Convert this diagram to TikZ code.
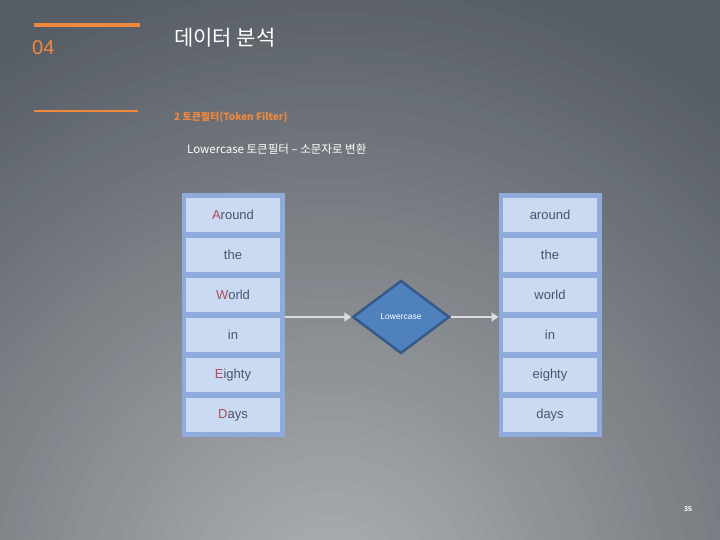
\documentclass[tikz,border=0pt]{standalone}
\usepackage{fontspec}
\setmainfont{Liberation Sans}
\newfontfamily\kr{Noto Sans CJK KR}
\usetikzlibrary{shapes.geometric,arrows.meta}
\definecolor{bgin}{HTML}{B0B3B5}
\definecolor{bgout}{HTML}{575D65}
\definecolor{accent}{HTML}{F0883E}
\definecolor{cellfill}{HTML}{C9DAF2}
\definecolor{cellborder}{HTML}{8EABDB}
\definecolor{celltext}{HTML}{4A5568}
\definecolor{capred}{HTML}{B04A5A}
\definecolor{dfill}{HTML}{4F81BD}
\definecolor{dborder}{HTML}{36598A}
\definecolor{arrowc}{HTML}{DCDCDC}
\tikzset{
  cell/.style={rectangle, fill=cellfill, draw=cellborder, line width=3pt,
    minimum width=97pt, minimum height=37pt, inner sep=0pt,
    text=celltext, font=\fontsize{13}{15}\selectfont},
  outerbox/.style={rectangle, draw=cellborder, line width=3pt,
    minimum width=100pt, minimum height=240pt, inner sep=0pt},
  conn/.style={draw=arrowc, line width=2.5pt, -{Triangle[length=7pt,width=9pt]}},
}
\newcommand{\capl}[1]{\textcolor{capred}{#1}}
\begin{document}
\begin{tikzpicture}[x=1pt,y=-1pt]
\useasboundingbox (0,0) rectangle (720,540);
\begin{scope}
\clip (0,0) rectangle (720,540);
\fill[bgout] (0,0) rectangle (720,540);
\foreach \i in {0,...,59} {
  \pgfmathsetmacro\r{720-\i*12}
  \pgfmathsetmacro\p{max(0,100*(1-\r/640))}
  \fill[bgin!\p!bgout] (330,600) circle (\r pt);
}
\end{scope}
% header
\draw[accent, line width=4pt] (34,25) coordinate (t1) -- (140,25) coordinate (t2);
\node[anchor=west, inner sep=0, text=accent, font=\fontsize{20}{21}\selectfont] (num) at (32,48) {04};
\draw[accent, line width=2pt] (34,111) coordinate (t3) -- (138,111) coordinate (t4);
\node[anchor=west, inner sep=0, text=white, font=\kr\fontsize{21}{22}\selectfont] (title) at (174,38) {데이터 분석};
\node[anchor=west, inner sep=0, text=accent, font=\kr\bfseries\fontsize{10}{11}\selectfont] (sub) at (174,117) {2 토큰필터(Token Filter)};
\node[anchor=west, inner sep=0, text=white, font=\kr\fontsize{11.5}{12}\selectfont] (desc) at (187,149) {Lowercase 토큰필터 – 소문자로 변환};
% left column
\node[outerbox] (Lbox) at (233,315) {};
\node[cell] (L1) at (233,215) {\capl{A}round};
\node[cell] (L2) at (233,255) {the};
\node[cell] (L3) at (233,295) {\capl{W}orld};
\node[cell] (L4) at (233,335) {in};
\node[cell] (L5) at (233,375) {\capl{E}ighty};
\node[cell] (L6) at (233,415) {\capl{D}ays};
\node[outerbox] at (233,315) {};
% right column
\node[outerbox] (Rbox) at (550,315) {};
\node[cell] (R1) at (550,215) {around};
\node[cell] (R2) at (550,255) {the};
\node[cell] (R3) at (550,295) {world};
\node[cell] (R4) at (550,335) {in};
\node[cell] (R5) at (550,375) {eighty};
\node[cell] (R6) at (550,415) {days};
\node[outerbox] at (550,315) {};
% diamond
\node[diamond, fill=dfill, draw=dborder, line width=2.5pt, minimum width=97pt,
  minimum height=73pt, inner sep=0pt, text=white, font=\fontsize{8.5}{9}\selectfont] (D) at (401,317) {Lowercase};
% connectors
\draw[conn] (Lbox.east |- D.west) -- (D.west);
\draw[conn] (D.east) -- (Rbox.west |- D.east);
% page number
\node[text=white, font=\bfseries\fontsize{7}{8}\selectfont, inner sep=0] (page) at (688,509) {35};
\end{tikzpicture}
\end{document}
